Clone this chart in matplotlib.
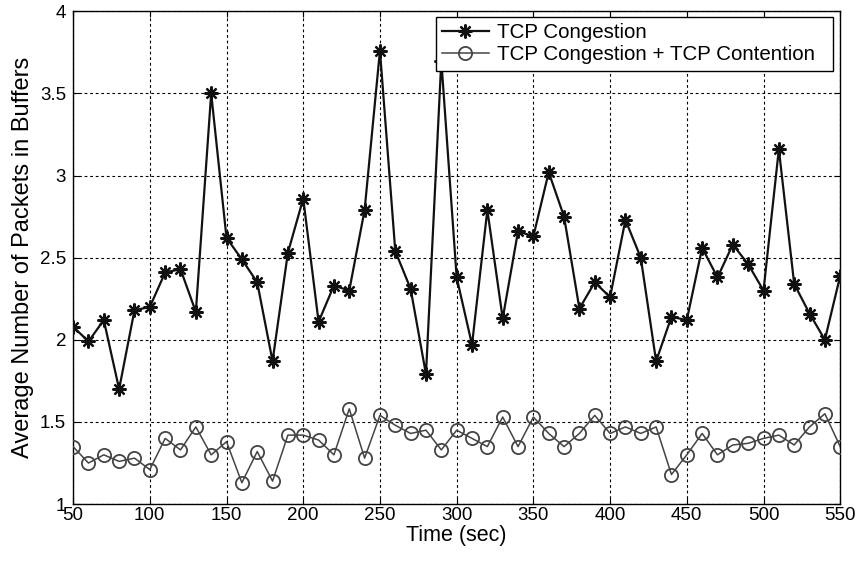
import matplotlib
matplotlib.use("Agg")
import matplotlib.pyplot as plt

plt.rcParams['font.family'] = ['Liberation Sans', 'DejaVu Sans']

time = list(range(50, 551, 10))
congestion = [2.08, 1.99, 2.12, 1.70, 2.18, 2.20, 2.41, 2.43, 2.17, 3.50,
              2.62, 2.49, 2.35, 1.87, 2.53, 2.86, 2.11, 2.33, 2.30, 2.79,
              3.76, 2.54, 2.31, 1.79, 3.70, 2.38, 1.97, 2.79, 2.13, 2.66,
              2.63, 3.02, 2.75, 2.19, 2.35, 2.26, 2.73, 2.50, 1.87, 2.14,
              2.12, 2.56, 2.38, 2.58, 2.46, 2.30, 3.16, 2.34, 2.16, 2.00,
              2.39]
contention = [1.35, 1.25, 1.30, 1.26, 1.28, 1.21, 1.40, 1.33, 1.47, 1.30,
              1.38, 1.13, 1.32, 1.14, 1.42, 1.42, 1.39, 1.30, 1.58, 1.28,
              1.54, 1.48, 1.43, 1.45, 1.33, 1.45, 1.40, 1.35, 1.53, 1.35,
              1.53, 1.43, 1.35, 1.43, 1.54, 1.43, 1.47, 1.43, 1.47, 1.18,
              1.30, 1.43, 1.30, 1.36, 1.37, 1.40, 1.42, 1.36, 1.47, 1.55,
              1.35]
xticks = [50, 100, 150, 200, 250, 300, 350, 400, 450, 500, 550]
yticks = [1, 1.5, 2, 2.5, 3, 3.5, 4]
ytick_labels = ['1', '1.5', '2', '2.5', '3', '3.5', '4']

fig = plt.figure(figsize=(8.6, 5.62), dpi=100)
ax = fig.add_axes([0.085, 0.103, 0.892, 0.877])

ax.plot(time, congestion, color='#111111', lw=1.6, marker=(8, 2, 0),
        markersize=10, markeredgewidth=1.6, markeredgecolor='#111111',
        label='TCP Congestion', zorder=3)
ax.plot(time, contention, color='#444444', lw=1.1, marker='o',
        markersize=9.5, markerfacecolor='none', markeredgewidth=1.3,
        markeredgecolor='#444444',
        label='TCP Congestion + TCP Contention', zorder=3)

ax.set_xlim(50, 550)
ax.set_ylim(1, 4)
ax.set_xticks(xticks)
ax.set_xticklabels([str(t) for t in xticks])
ax.set_yticks(yticks)
ax.set_yticklabels(ytick_labels)
ax.tick_params(direction='in', length=4, labelsize=13.5, top=True, right=True,
               colors='black')
ax.tick_params(axis='x', pad=2)
ax.tick_params(axis='y', pad=5)
ax.grid(True, color='black', linestyle=(0, (2.5, 2.5)), linewidth=0.8)
for s in ax.spines.values():
    s.set_linewidth(1.0)
    s.set_color('black')

ax.set_xlabel('Time (sec)', fontsize=15.5, labelpad=1)
ax.set_ylabel('Average Number of Packets in Buffers', fontsize=17, labelpad=4)

leg = ax.legend(loc='upper left', bbox_to_anchor=(0.4733, 0.878, 0.5176, 0.110),
                mode='expand', fontsize=14.8, frameon=True, fancybox=False,
                framealpha=1, edgecolor='black', borderpad=0.3,
                labelspacing=0.15, handlelength=2.25, handletextpad=0.4,
                borderaxespad=0.0)
leg.set_zorder(10)
leg.get_frame().set_linewidth(1.0)

fig.savefig('out.png', dpi=100)
